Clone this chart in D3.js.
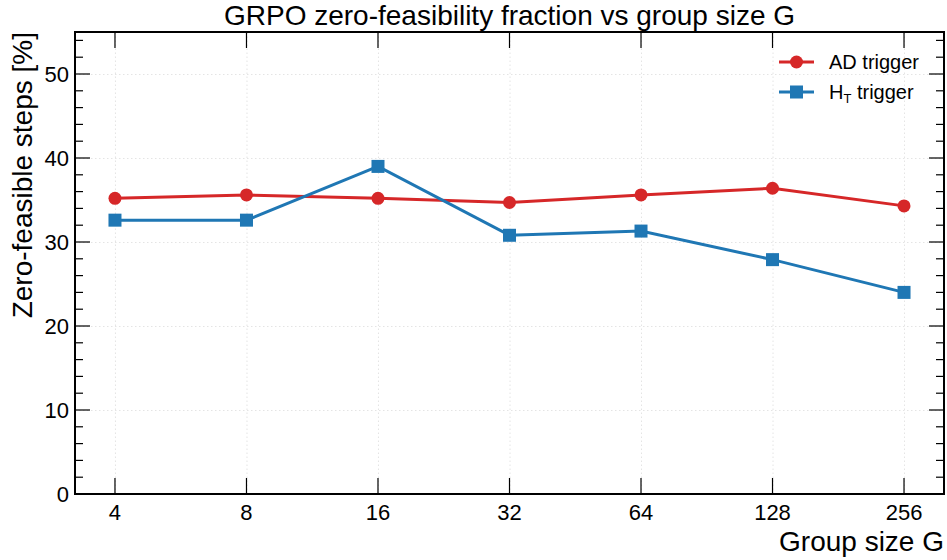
<!DOCTYPE html>
<html>
<head>
<meta charset="utf-8">
<script src="https://cdn.jsdelivr.net/npm/d3@7"></script>
<style>
  body { margin: 0; background: #fff; }
  svg { font-family: "Liberation Sans", Arial, sans-serif; }
  .grid line { stroke: #ddd; stroke-dasharray: 1.5,2.5; stroke-width: 0.8; }
  .grid path { display: none; }
</style>
</head>
<body>
<div id="chart"></div>
<script>
const groupSizes = [4, 8, 16, 32, 64, 128, 256];
const adTrigger = [35.2, 35.6, 35.2, 34.7, 35.6, 36.4, 34.3];
const htTrigger = [32.6, 32.6, 39.0, 30.8, 31.3, 27.9, 24.0];
const yTicks = [0, 10, 20, 30, 40, 50];

const W = 947, H = 560;
const margin = { top: 32, right: 3, bottom: 66, left: 75 };
const width = W - margin.left - margin.right;
const height = H - margin.top - margin.bottom;

const svg = d3.select('#chart')
  .append('svg')
  .attr('width', W)
  .attr('height', H);

const g = svg.append('g')
  .attr('transform', `translate(${margin.left},${margin.top})`);

const pad = Math.pow(2, 0.304);
const x = d3.scaleLog().base(2)
  .domain([groupSizes[0] / pad, groupSizes[groupSizes.length - 1] * pad])
  .range([0, width]);

const y = d3.scaleLinear()
  .domain([0, 55])
  .range([height, 0]);

// grid
g.append('g').attr('class', 'grid')
  .call(d3.axisLeft(y).tickValues(yTicks).tickSize(-width).tickFormat(''));
g.append('g').attr('class', 'grid')
  .attr('transform', `translate(0,${height})`)
  .call(d3.axisBottom(x).tickValues(groupSizes).tickSize(-height).tickFormat(''));

// ticks (inward, mirrored)
const minorY = d3.range(0, 56, 2).filter(v => v % 10 !== 0);
function ticks(sel, vals, len, horiz, side) {
  sel.selectAll(null).data(vals).enter().append('line')
    .attr('stroke', '#000').attr('stroke-width', 1.2)
    .attr('x1', d => horiz ? x(d) : (side === 'l' ? 0 : width))
    .attr('x2', d => horiz ? x(d) : (side === 'l' ? len : width - len))
    .attr('y1', d => horiz ? (side === 'b' ? height : 0) : y(d))
    .attr('y2', d => horiz ? (side === 'b' ? height - len : len) : y(d));
}
ticks(g, yTicks, 15, false, 'l');
ticks(g, yTicks, 15, false, 'r');
ticks(g, minorY, 8, false, 'l');
ticks(g, minorY, 8, false, 'r');
ticks(g, groupSizes, 16, true, 'b');
ticks(g, groupSizes, 16, true, 't');

// tick labels
g.selectAll('.ylab').data(yTicks).enter().append('text')
  .attr('x', -6).attr('y', d => y(d)).attr('dy', '0.35em')
  .attr('text-anchor', 'end').attr('font-size', 22)
  .text(d => d);
g.selectAll('.xlab').data(groupSizes).enter().append('text')
  .attr('x', d => x(d)).attr('y', height + 26)
  .attr('text-anchor', 'middle').attr('font-size', 22)
  .text(d => d);

// frame
g.append('rect')
  .attr('width', width).attr('height', height)
  .attr('fill', 'none').attr('stroke', '#000').attr('stroke-width', 2);

// series
const series = [
  { name: 'AD trigger', values: adTrigger, color: '#d62728', marker: 'circle' },
  { name: 'HT', values: htTrigger, color: '#1f77b4', marker: 'square' }
];

const line = d3.line()
  .x((d, i) => x(groupSizes[i]))
  .y(d => y(d));

function drawMarker(sel, type, color) {
  if (type === 'circle') {
    sel.append('circle').attr('r', 6.5).attr('fill', color);
  } else {
    sel.append('rect').attr('x', -6.5).attr('y', -6.5)
      .attr('width', 13).attr('height', 13).attr('fill', color);
  }
}

series.forEach(s => {
  g.append('path')
    .datum(s.values)
    .attr('fill', 'none')
    .attr('stroke', s.color)
    .attr('stroke-width', 3)
    .attr('d', line);
  s.values.forEach((v, i) => {
    const m = g.append('g').attr('transform', `translate(${x(groupSizes[i])},${y(v)})`);
    drawMarker(m, s.marker, s.color);
  });
});

// legend
const leg = svg.append('g').attr('transform', 'translate(779,62)');
series.forEach((s, i) => {
  const row = leg.append('g').attr('transform', `translate(0,${i * 30})`);
  row.append('line').attr('x1', 0).attr('x2', 35)
    .attr('stroke', s.color).attr('stroke-width', 3);
  const m = row.append('g').attr('transform', 'translate(17.5,0)');
  drawMarker(m, s.marker, s.color);
  const t = row.append('text').attr('x', 50).attr('dy', '0.35em').attr('font-size', 20);
  if (s.name === 'HT') {
    t.append('tspan').text('H');
    t.append('tspan').attr('font-size', 13).attr('dy', 4).text('T');
    t.append('tspan').attr('dy', -4).text(' trigger');
  } else {
    t.text(s.name);
  }
});

// title and axis labels
svg.append('text')
  .attr('x', margin.left + width / 2).attr('y', 25)
  .attr('text-anchor', 'middle').attr('font-size', 28)
  .text('GRPO zero-feasibility fraction vs group size G');

svg.append('text')
  .attr('x', margin.left + width).attr('y', 551)
  .attr('text-anchor', 'end').attr('font-size', 28)
  .text('Group size G');

svg.append('text')
  .attr('transform', `translate(32,${margin.top}) rotate(-90)`)
  .attr('text-anchor', 'end').attr('font-size', 28)
  .text('Zero-feasible steps [%]');
</script>
</body>
</html>
